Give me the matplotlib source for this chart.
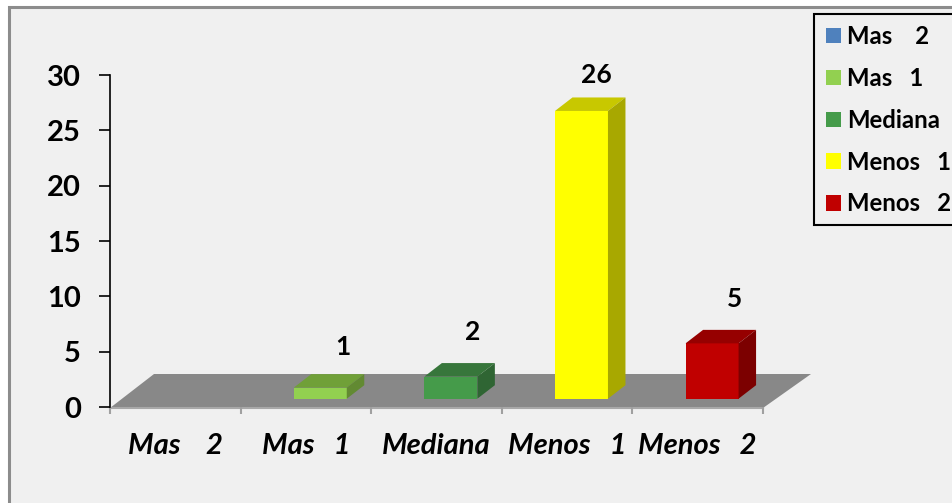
import matplotlib
matplotlib.use("Agg")
import matplotlib.pyplot as plt
from matplotlib.patches import Polygon, Rectangle

categories = ["Mas    2", "Mas   1", "Mediana", "Menos   1", "Menos   2"]
values = [0, 1, 2, 26, 5]
front_colors = ["#4f81bd", "#92d050", "#459b4a", "#ffff00", "#c00000"]
top_colors = ["#3f6797", "#70a038", "#37763b", "#c8c800", "#960000"]
side_colors = ["#3a5f8c", "#628a32", "#2f6533", "#a8a800", "#7c0000"]
y_ticks = [0, 5, 10, 15, 20, 25, 30]

W, H = 953, 503
BG = "#f0f0f0"
plt.rcParams["font.family"] = ["Lato", "DejaVu Sans"]

fig = plt.figure(figsize=(W / 100, H / 100), dpi=100, facecolor="white")

# fondo del grafico con borde gris arriba e izquierda
fig.add_artist(Rectangle((9 / W, -0.1), 1.1, 1 - 6.5 / H + 0.1, transform=fig.transFigure,
                         facecolor=BG, edgecolor="#8c8c8c", linewidth=2.2, zorder=-1))

# ejes: 0-5 categorias, 0-30 valores
left, right, top, bottom = 110, 763, 75, 407
ax = fig.add_axes([left / W, 1 - bottom / H, (right - left) / W, (bottom - top) / H])
ax.patch.set_alpha(0)
ax.set_xlim(0, 5)
ax.set_ylim(0, 30)

px_x = 5 / (right - left)
px_y = 30 / (bottom - top)
dx = 17.5 * px_x
dy = 13.5 * px_y
base = 8.3 * px_y
bar_w = 53 * px_x
shift = 0.11

# desplazamiento de las etiquetas en pixeles (la de 26 esta movida a mano en el original)
label_dx = [22, 22.5, 22, 14.5, 22]
label_dy = [31, 27, 31, 22, 31]

# piso
ax.add_patch(Polygon([(0, -1 * px_y), (5, -1 * px_y), (5 + 48 * px_x, 33 * px_y), (44 * px_x, 33 * px_y)],
                     closed=True, facecolor="#888888", edgecolor="none", clip_on=False, zorder=1))
ax.plot([0, 5], [-1 * px_y, -1 * px_y], color="#a8a8a8", lw=1.5, clip_on=False, zorder=1.5)

positions = [i + 0.5 + shift for i in range(len(values))]
bars = ax.bar(positions, values, width=bar_w, bottom=base, color=front_colors,
              linewidth=0, clip_on=False, zorder=3)

for i, v in enumerate(values):
    if v == 0:
        continue
    x0 = positions[i] - bar_w / 2
    x1 = positions[i] + bar_w / 2
    y0 = base
    y1 = base + v
    ax.add_patch(Polygon([(x0, y1), (x1, y1), (x1 + dx, y1 + dy), (x0 + dx, y1 + dy)],
                         closed=True, facecolor=top_colors[i], edgecolor="none", clip_on=False, zorder=3))
    ax.add_patch(Polygon([(x1, y0), (x1 + dx, y0 + dy), (x1 + dx, y1 + dy), (x1, y1)],
                         closed=True, facecolor=side_colors[i], edgecolor="none", clip_on=False, zorder=3))
    ax.text(positions[i] + label_dx[i] * px_x, y1 + dy + label_dy[i] * px_y, str(v),
            ha="center", va="center", fontsize=19, fontweight="bold", color="black", clip_on=False)

for s in ["top", "right"]:
    ax.spines[s].set_visible(False)
ax.spines["left"].set_color("black")
ax.spines["left"].set_linewidth(1.2)
ax.spines["left"].set_zorder(5)
ax.spines["bottom"].set_visible(False)

ax.set_yticks(y_ticks)
ax.tick_params(axis="y", length=8, width=1.2, pad=13, labelsize=21, color="black")
for lab in ax.get_yticklabels():
    lab.set_fontweight("bold")

# marcas del eje x entre categorias, etiquetas centradas
ax.set_xticks(range(len(categories) + 1))
ax.set_xticklabels([])
ax.tick_params(axis="x", length=5, width=1.5, color="#a0a0a0", pad=0)
ax.set_xticks([i + 0.5 for i in range(len(categories))], minor=True)
ax.set_xticklabels(categories, minor=True, fontsize=21, fontweight="bold", fontstyle="italic")
ax.tick_params(axis="x", which="minor", length=0, pad=19)

# leyenda, llega hasta el borde derecho como en el original
fig.add_artist(Rectangle((814 / W, 1 - 225 / H), 0.2, 211 / H, transform=fig.transFigure,
                         facecolor=BG, edgecolor="black", linewidth=1.5, zorder=4))
handles = [Rectangle((0, 0), 1, 1, facecolor=c, edgecolor="none") for c in front_colors]
leg = fig.legend(handles, categories, loc="upper left", bbox_to_anchor=(826 / W, 1 - 25 / H),
                 bbox_transform=fig.transFigure, prop={"weight": "bold", "size": 17.2},
                 frameon=False, handlelength=0.63, handleheight=0.63, handletextpad=0.25,
                 labelspacing=0.79, borderpad=0, borderaxespad=0)
leg.set_zorder(5)

fig.savefig("out.png", dpi=100, facecolor="white")
